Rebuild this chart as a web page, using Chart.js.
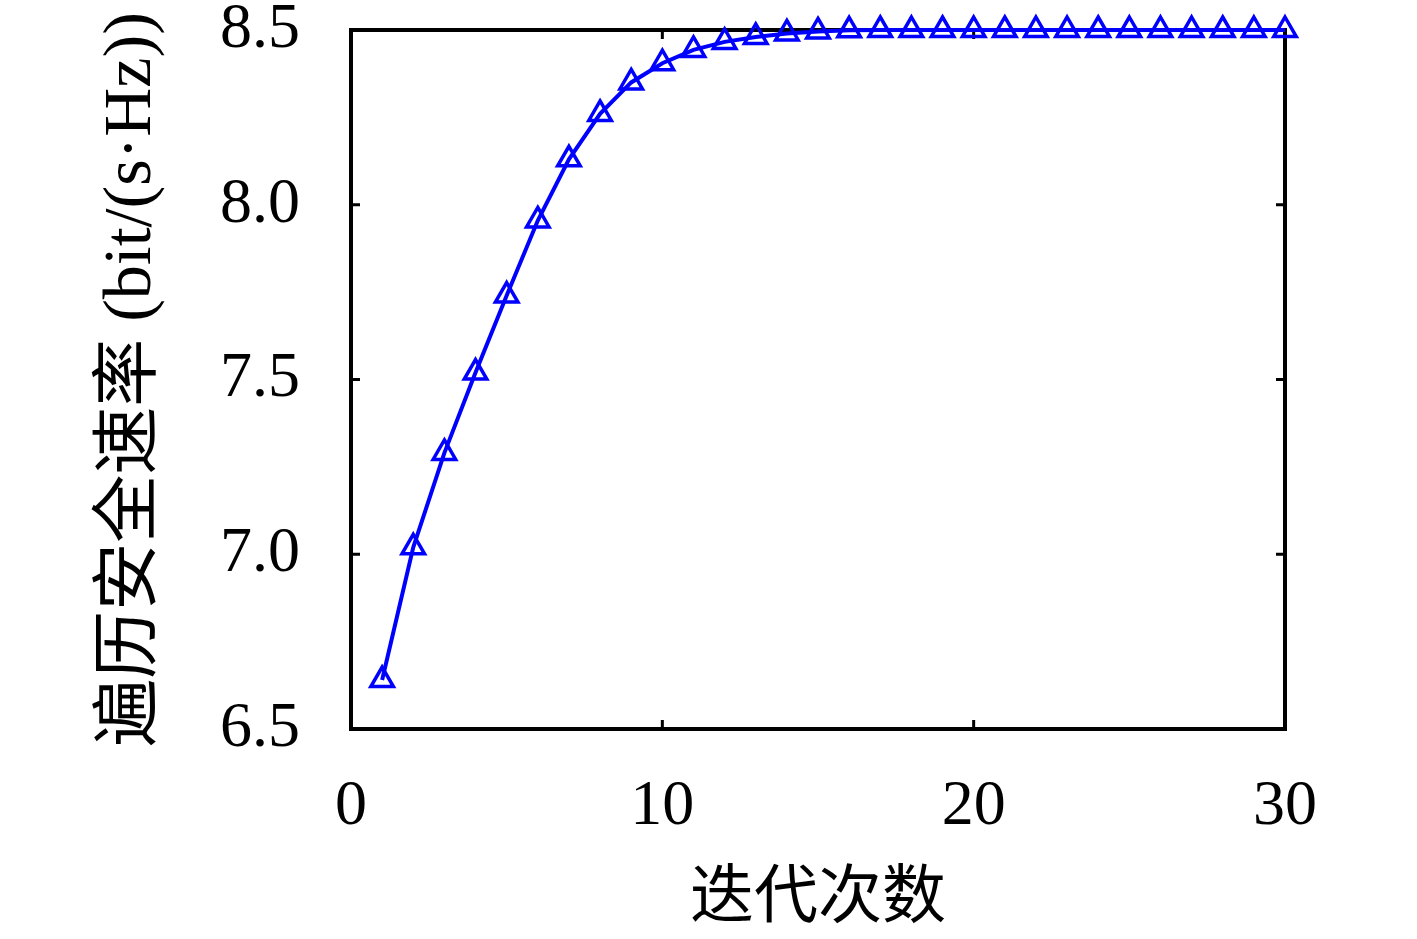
<!DOCTYPE html>
<html>
<head>
<meta charset="utf-8">
<script src="https://cdn.jsdelivr.net/npm/chart.js@4/dist/chart.umd.min.js"></script>
<style>
  html, body { margin: 0; padding: 0; background: #ffffff; }
  canvas { display: block; }
</style>
</head>
<body>
<canvas id="c" width="1417" height="939"></canvas>
<script>
const iterations = [1,2,3,4,5,6,7,8,9,10,11,12,13,14,15,16,17,18,19,20,21,22,23,24,25,26,27,28,29,30];
const rate = [6.64, 7.02, 7.29, 7.52, 7.74, 7.955, 8.13, 8.26, 8.35, 8.405, 8.443, 8.466, 8.48, 8.49, 8.496, 8.499,
              8.5, 8.5, 8.5, 8.5, 8.5, 8.5, 8.5, 8.5, 8.5, 8.5, 8.5, 8.5, 8.5, 8.5];
const xTicks = [0, 10, 20, 30];
const yTicks = [6.5, 7.0, 7.5, 8.0, 8.5];
const xTitle = '迭代次数';
const yTitle = '遍历安全速率 (bit/(s·Hz))';

const FONT = "'Liberation Serif', 'Noto Sans CJK SC', serif";

const framePlugin = {
  id: 'frame',
  beforeDatasetsDraw(chart) {
    const {ctx, chartArea: a, scales: {x, y}} = chart;
    ctx.save();
    ctx.strokeStyle = '#000';
    ctx.lineWidth = 4;
    ctx.strokeRect(a.left, a.top, a.right - a.left, a.bottom - a.top);
    ctx.lineWidth = 3;
    const tl = 9;
    ctx.beginPath();
    xTicks.forEach(v => {
      const px = x.getPixelForValue(v);
      ctx.moveTo(px, a.bottom); ctx.lineTo(px, a.bottom - tl);
      ctx.moveTo(px, a.top); ctx.lineTo(px, a.top + tl);
    });
    yTicks.forEach(v => {
      const py = y.getPixelForValue(v);
      ctx.moveTo(a.left, py); ctx.lineTo(a.left + tl, py);
      ctx.moveTo(a.right, py); ctx.lineTo(a.right - tl, py);
    });
    ctx.stroke();
    ctx.restore();
  }
};

new Chart(document.getElementById('c'), {
  type: 'line',
  data: {
    datasets: [{
      data: iterations.map((v, i) => ({x: v, y: rate[i]})),
      borderColor: '#0000ff',
      borderWidth: 4,
      tension: 0,
      pointStyle: 'triangle',
      pointRadius: 13,
      pointBorderWidth: 3.5,
      pointBorderColor: '#0000ff',
      pointBackgroundColor: 'rgba(0,0,0,0)',
      clip: false
    }]
  },
  options: {
    responsive: false,
    animation: false,
    events: [],
    layout: { padding: { top: 30, right: 132, bottom: 0, left: 0 } },
    plugins: { legend: { display: false }, tooltip: { enabled: false } },
    scales: {
      x: {
        type: 'linear',
        min: 0, max: 30,
        afterBuildTicks(scale) { scale.ticks = xTicks.map(v => ({value: v})); },
        afterFit(scale) { scale.height = 210; scale.paddingLeft = 0; scale.paddingRight = 0; },
        grid: { display: false, drawTicks: false },
        border: { display: false },
        ticks: {
          color: '#000',
          font: { family: FONT, size: 64 },
          padding: 40,
          maxRotation: 0,
          callback: v => String(v)
        },
        title: {
          display: true, text: xTitle, color: '#000',
          font: { family: FONT, size: 64 },
          padding: { top: 0, bottom: 0 }
        }
      },
      y: {
        type: 'linear',
        min: 6.5, max: 8.5,
        afterBuildTicks(scale) { scale.ticks = yTicks.map(v => ({value: v})); },
        afterFit(scale) { scale.width = 351; scale.paddingTop = 0; scale.paddingBottom = 0; },
        grid: { display: false, drawTicks: false },
        border: { display: false },
        ticks: {
          color: '#000',
          font: { family: FONT, size: 64 },
          padding: 51,
          callback: v => Number(v).toFixed(1)
        },
        title: {
          display: true, text: yTitle, color: '#000',
          font: { family: FONT, size: 68 },
          padding: { top: 91, bottom: 0 }
        }
      }
    }
  },
  plugins: [framePlugin]
});
</script>
</body>
</html>
